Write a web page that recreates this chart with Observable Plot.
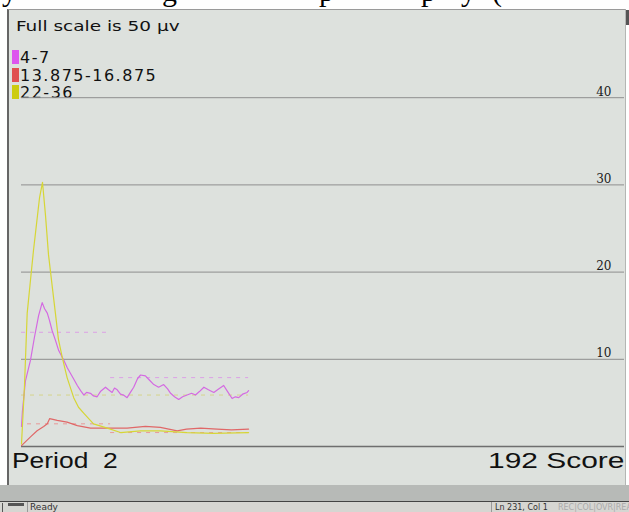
<!DOCTYPE html>
<html>
<head>
<meta charset="utf-8">
<script src="https://cdn.jsdelivr.net/npm/d3@7"></script>
<script src="https://cdn.jsdelivr.net/npm/@observablehq/plot@0.6"></script>
<style>
  html, body { margin: 0; padding: 0; background: #fff; }
  #page { position: relative; width: 629px; height: 512px; overflow: hidden; background: #fff; }
  .abs { position: absolute; white-space: nowrap; }
  #panel { position: absolute; left: 7px; top: 9px; width: 616px; height: 476px; background: #dde1dd;
           border-left: 2px solid #666; border-top: 1px solid #9a9a9a; border-right: 1px solid #b4b6b4; overflow: hidden; }
  .sans { font-family: "DejaVu Sans", sans-serif; color: #111; }
  .arial { font-family: "Liberation Sans", Arial, sans-serif; color: #111; }
  .sw { position: absolute; width: 7px; height: 14px; }
  #chart { position: absolute; left: 0; top: 0; }
</style>
</head>
<body>
<div id="page">
  <div class="abs" style="top:-24px;left:0;font:30px/30px 'Liberation Serif',serif;color:#000">
    <span class="abs" style="left:2px">y</span>
    <span class="abs" style="left:162px">g</span>
    <span class="abs" style="left:319px">p</span>
    <span class="abs" style="left:421px">p</span>
    <span class="abs" style="left:461px">y</span>
    <span class="abs" style="left:492px">(</span>
  </div>
  <div id="panel">
    <div class="abs sans" id="title" style="left:7px;top:9px;font-size:14px;line-height:14px;transform:scaleX(1.32);transform-origin:0 0">Full scale is 50 µv</div>
    <div id="legend"></div>
    <div class="abs arial" style="left:3px;top:440px;font-size:22px;line-height:22px;transform:scaleX(1.2);transform-origin:0 0">Period&nbsp;&nbsp;2</div>
    <div class="abs arial" style="left:479px;top:440px;font-size:22px;line-height:22px;transform:scaleX(1.36);transform-origin:0 0">192 Score</div>
  </div>
  <div class="abs" style="left:626px;top:10px;width:3px;height:15px;background:#555"></div>
  <div class="abs" style="left:0;top:485px;width:629px;height:16px;background:#b7bab7"></div>
  <div class="abs" style="left:0;top:501px;width:629px;height:1px;background:#444"></div>
  <div class="abs" style="left:0;top:502px;width:629px;height:10px;background:#d6d6d2"></div>
  <div class="abs" style="left:8px;top:503px;width:16px;height:3px;background:#555"></div>
  <div class="abs" style="left:2px;top:503px;width:1px;height:9px;background:#555"></div>
  <div class="abs" style="left:27px;top:502px;width:1px;height:10px;background:#999"></div>
  <div class="abs sans" style="left:30px;top:502px;font-size:9px;line-height:11px;color:#333">Ready</div>
  <div class="abs" style="left:491px;top:502px;width:1px;height:10px;background:#999"></div>
  <div class="abs sans" style="left:495px;top:502px;font-size:8px;line-height:11px;color:#333">Ln 231, Col 1</div>
  <div class="abs sans" style="left:558px;top:502px;font-size:8px;line-height:11px;color:#aaa">REC|COL|OVR|REA</div>
  <div id="chart"></div>
</div>
<script>
// ---- data ----
const seriesNames = ["4-7", "13.875-16.875", "22-36"];
const seriesColors = ["#d46ae2", "#e06868", "#d6d636"];
const swatchColors = ["#dd55ee", "#e05050", "#cccc10"];
const dashColors = ["#dca0e6", "#e89a9a", "#d6d68a"];

// sample index
const magT = [0, 0.3, 1.3, 3, 4.3, 5.7, 6.9, 7.7, 8.6, 9.3, 10.2, 11.3, 12.4, 14.1, 15.3, 16.3, 17.3, 18.6, 19.7, 20.8, 21.7, 23, 24, 25.2, 26.3, 28, 29, 30.2, 31, 31.9, 33, 34, 35.2, 36.3, 37.4, 38.7, 39.7, 41.3, 42.7, 44.1, 45.7, 47.4, 48.7, 49.7, 51, 52.4, 53.7, 55.2, 56.7, 58, 59.3, 60.8, 62.3, 64.1, 65.7, 67.4, 68.7, 70.2, 71.3, 72.4, 73.7, 75.2, 75.7];
const magV = [2.3, 4.0, 7.5, 9.9, 12.5, 15.0, 16.5, 15.8, 15.3, 14.5, 13.3, 12.2, 11.0, 9.9, 9.0, 8.4, 7.8, 7.0, 6.4, 5.9, 6.2, 6.1, 5.8, 5.7, 6.3, 6.8, 6.5, 6.2, 6.7, 6.5, 6.0, 5.9, 5.6, 6.2, 6.8, 7.8, 8.2, 8.1, 7.6, 7.1, 6.8, 7.1, 6.6, 6.1, 5.7, 5.4, 5.7, 5.9, 6.1, 5.9, 6.3, 6.8, 6.5, 6.2, 6.6, 7.0, 6.3, 5.5, 5.7, 5.6, 6.0, 6.2, 6.4];

const redT = [0, 3, 5.2, 7.4, 8.6, 9.4, 11.9, 15.2, 18.6, 23, 29.7, 35.2, 41.3, 46.3, 51.9, 55, 59.7, 65.2, 70, 75.7];
const redV = [0.1, 1.1, 1.8, 2.3, 2.6, 3.2, 3.0, 2.8, 2.4, 2.1, 2.1, 2.1, 2.3, 2.2, 1.8, 2.0, 2.1, 2.0, 1.9, 2.0];

const yelT = [0, 1, 1.9, 3, 4, 5, 6, 7, 8, 9, 10.4, 11.3, 12.3, 13.6, 15.2, 17.4, 19, 20.8, 24, 28.6, 33, 39.7, 46.3, 55.2, 64, 75.7];
const yelV = [0.3, 7, 15.3, 19.1, 22.5, 25.5, 28.5, 30.3, 26.5, 22, 17.9, 15.3, 12.3, 10.2, 7.9, 5.6, 4.5, 3.8, 2.6, 2.1, 1.6, 1.8, 1.8, 1.6, 1.5, 1.6];

// dashed reference levels: [series index, start, end, value]
const refSeries = [0, 0, 2, 1, 1];
const refStart = [0, 29.7, 0, 2, 29.7];
const refEnd = [29.7, 75.7, 75.7, 29.7, 75.7];
const refValue = [13.1, 7.9, 5.9, 2.6, 1.6];

const gridValues = [10, 20, 30, 40];
const fullScale = 50;

// ---- build ----
const lines = [
  ...magT.map((t, i) => ({t, v: magV[i], s: 0})),
  ...redT.map((t, i) => ({t, v: redV[i], s: 1})),
  ...yelT.map((t, i) => ({t, v: yelV[i], s: 2}))
];
const refs = refSeries.map((s, i) => ({s, x1: refStart[i], x2: refEnd[i], y: refValue[i]}));

const legend = document.getElementById("legend");
seriesNames.forEach((name, i) => {
  const top = 40 + i * 17.7;
  const sw = document.createElement("div");
  sw.className = "sw";
  sw.style.left = "3px"; sw.style.top = top + "px"; sw.style.background = swatchColors[i];
  legend.appendChild(sw);
  const tx = document.createElement("div");
  tx.className = "abs sans";
  tx.style.left = "11px"; tx.style.top = (top) + "px";
  tx.style.fontSize = "16px"; tx.style.lineHeight = "16px"; tx.style.letterSpacing = "1.5px";
  tx.textContent = name;
  legend.appendChild(tx);
});

const plot = Plot.plot({
  width: 629,
  height: 485,
  marginLeft: 21,
  marginRight: 5,
  marginTop: 10,
  marginBottom: 39,
  style: {background: "transparent", overflow: "visible"},
  x: {domain: [0, 201], axis: null},
  y: {domain: [0, fullScale], axis: null},
  marks: [
    Plot.ruleY(gridValues, {stroke: "#8e8e8e", strokeWidth: 1}),
    Plot.ruleY([0], {stroke: "#6e6e6e", strokeWidth: 1.5}),
    Plot.text(gridValues, {y: d => d, text: d => String(d), frameAnchor: "right", textAnchor: "end",
      lineAnchor: "bottom", dx: -13, dy: -2, fontFamily: "DejaVu Serif", fontSize: 12, fill: "#1a1a1a"}),
    Plot.ruleY(refs, {x1: "x1", x2: "x2", y: "y", stroke: d => dashColors[d.s], strokeDasharray: "4,5", strokeWidth: 1}),
    Plot.line(lines, {x: "t", y: "v", z: "s", stroke: d => seriesColors[d.s], strokeWidth: 1.2})
  ]
});
document.getElementById("chart").appendChild(plot);
</script>
</body>
</html>
